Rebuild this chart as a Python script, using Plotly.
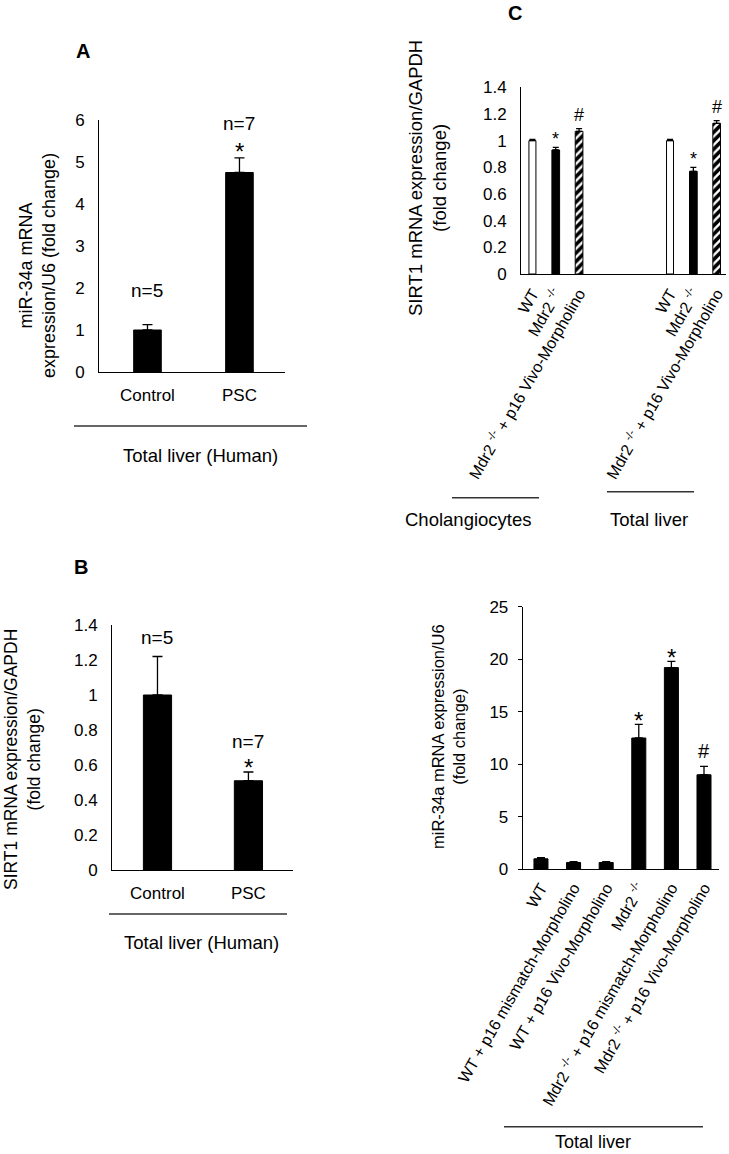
import plotly.graph_objects as go

W, H = 729, 1154
FONT = "Liberation Sans, Arial, sans-serif"
FS = 17

# ---------------- data ----------------
# Panel A: miR-34a in human liver
a_cats = ["Control", "PSC"]
a_vals = [1.0, 4.75]
a_err = [0.13, 0.35]
a_n = ["n=5", "n=7"]
a_sig = ["", "*"]

# Panel B: SIRT1 in human liver
b_cats = ["Control", "PSC"]
b_vals = [1.0, 0.51]
b_err = [0.22, 0.05]
b_n = ["n=5", "n=7"]
b_sig = ["", "*"]

# Panel C: SIRT1 in mouse (cholangiocytes / total liver)
c_groups = ["Cholangiocytes", "Total liver"]
c_labels = ["WT", "Mdr2 <sup>-/-</sup>", "Mdr2 <sup>-/-</sup> + p16 Vivo-Morpholino"]
c_wt = [1.0, 1.0]
c_wt_err = [0.01, 0.01]
c_mdr2 = [0.93, 0.77]
c_mdr2_err = [0.02, 0.03]
c_morph = [1.07, 1.13]
c_morph_err = [0.02, 0.02]

# Panel D: miR-34a in mouse total liver
d_cats = ["WT", "WT + p16 mismatch-Morpholino", "WT + p16 Vivo-Morpholino",
          "Mdr2 <sup>-/-</sup>", "Mdr2 <sup>-/-</sup> + p16 mismatch-Morpholino",
          "Mdr2 <sup>-/-</sup> + p16 Vivo-Morpholino"]
d_vals = [1.0, 0.65, 0.65, 12.5, 19.2, 9.0]
d_err = [0.1, 0.08, 0.08, 1.3, 0.6, 0.8]
d_sig = ["", "", "", "*", "*", "#"]


def px(x):
    return x / W


def py(y):
    return 1 - y / H


def errbar(err, w=5):
    return dict(type="data", symmetric=False, array=err, arrayminus=[0] * len(err),
                color="black", thickness=1.3, width=w)


fig = go.Figure()

# A
fig.add_trace(go.Bar(x=a_cats, y=a_vals, width=0.30, marker=dict(color="black", line=dict(color="black", width=1)),
                     error_y=errbar(a_err), xaxis="x", yaxis="y"))
# B
fig.add_trace(go.Bar(x=b_cats, y=b_vals, width=0.31, marker=dict(color="black", line=dict(color="black", width=1)),
                     error_y=errbar(b_err), xaxis="x2", yaxis="y2"))

# C positions: three bars per group, groups separated by a gap
GAP = 5.9
c_pos = [[g * GAP + i for g in range(len(c_groups))] for i in range(3)]
c_tickvals = [g * GAP + i for g in range(len(c_groups)) for i in range(3)]
c_ticktext = [c_labels[i] for g in range(len(c_groups)) for i in range(3)]
fig.add_trace(go.Bar(x=c_pos[0], y=c_wt, width=0.3,
                     marker=dict(color="white", line=dict(color="black", width=1)),
                     error_y=errbar(c_wt_err, 3), xaxis="x3", yaxis="y3"))
fig.add_trace(go.Bar(x=c_pos[1], y=c_mdr2, width=0.33,
                     marker=dict(color="black", line=dict(color="black", width=1)),
                     error_y=errbar(c_mdr2_err, 3), xaxis="x3", yaxis="y3"))
fig.add_trace(go.Bar(x=c_pos[2], y=c_morph, width=0.33,
                     marker=dict(color="white", line=dict(color="black", width=1),
                                 pattern=dict(shape="/", fgcolor="black", bgcolor="white", size=6, solidity=0.6)),
                     error_y=errbar(c_morph_err, 3), xaxis="x3", yaxis="y3"))
# D
fig.add_trace(go.Bar(x=d_cats, y=d_vals, width=0.43, marker=dict(color="black", line=dict(color="black", width=1)),
                     error_y=errbar(d_err, 4), xaxis="x4", yaxis="y4"))

axis_common = dict(showline=True, linecolor="black", linewidth=1, showgrid=False, zeroline=False,
                   automargin=False, fixedrange=True)
tf = dict(family=FONT, size=FS, color="black")
tf_rot = dict(family=FONT, size=16, color="black")

fig.update_layout(
    template="none",
    width=W, height=H, margin=dict(l=0, r=0, t=0, b=0, pad=0, autoexpand=False),
    paper_bgcolor="white", plot_bgcolor="white", showlegend=False, bargap=0,
    font=dict(family=FONT, size=FS, color="black"),
    xaxis=dict(domain=[px(99), px(285)], range=[-0.527, 1.495], anchor="y", ticks="",
               ticklabelstandoff=8, tickfont=tf, **axis_common),
    yaxis=dict(domain=[py(372), py(120)], range=[0, 6], dtick=1, anchor="x", ticks="",
               ticklabelstandoff=10, tickfont=tf, **axis_common),
    xaxis2=dict(domain=[px(112), px(293)], range=[-0.5, 1.49], anchor="y2", ticks="",
                ticklabelstandoff=8, tickfont=tf, **axis_common),
    yaxis2=dict(domain=[py(870), py(625)], range=[0, 1.4], dtick=0.2, anchor="x2", ticks="",
                ticklabelstandoff=10, tickfont=tf, **axis_common),
    xaxis3=dict(domain=[px(521), px(726)], range=[-0.49, 8.3], anchor="y3", ticks="",
                tickvals=c_tickvals, ticktext=c_ticktext, tickangle=-60,
                ticklabelstandoff=3, tickfont=tf_rot, **axis_common),
    yaxis3=dict(domain=[py(274), py(87.3)], range=[0, 1.4], dtick=0.2, anchor="x3", ticks="",
                ticklabelstandoff=10, tickfont=tf, **axis_common),
    xaxis4=dict(domain=[px(522.7), px(719)], range=[-0.56, 5.46], anchor="y4", ticks="",
                tickangle=-60, ticklabelstandoff=2, tickfont=tf_rot, **axis_common),
    yaxis4=dict(domain=[py(869.3), py(606.7)], range=[0, 25], dtick=5, anchor="x4",
                ticks="outside", ticklen=4, tickcolor="black", ticklabelstandoff=6, tickfont=tf, **axis_common),
)

ann = []


def txt(x, y, text, size=FS, bold=False, xref="paper", yref="paper", angle=0, yshift=0):
    ann.append(dict(x=x, y=y, xref=xref, yref=yref, text=("<b>%s</b>" % text) if bold else text,
                    showarrow=False, textangle=angle, xanchor="center", yanchor="middle", yshift=yshift,
                    font=dict(family=FONT, size=size, color="black")))


# panel letters
txt(px(83), py(51), "A", 20, True)
txt(px(81), py(567), "B", 20, True)
txt(px(515), py(13), "C", 20, True)

# y-axis titles
txt(px(37), py(266), "miR-34a mRNA<br>expression/U6 (fold change)", 18, angle=-90)
txt(px(22), py(760), "SIRT1 mRNA expression/GAPDH<br>(fold change)", 17.5, angle=-90)
txt(px(427), py(178), "SIRT1 mRNA expression/GAPDH<br>(fold change)", 18.5, angle=-90)
txt(px(448), py(737), "miR-34a mRNA expression/U6<br>(fold change)", 16.5, angle=-90)

# n labels and significance marks
for i, c in enumerate(a_cats):
    top = a_vals[i] + a_err[i]
    txt(c, top, a_n[i], 19, xref="x", yref="y", yshift=34)
    if a_sig[i]:
        txt(c, top, a_sig[i], 24, xref="x", yref="y", yshift=6)
for i, c in enumerate(b_cats):
    top = b_vals[i] + b_err[i]
    txt(c, top, b_n[i], 19, xref="x2", yref="y2", yshift=19 if i == 0 else 31)
    if b_sig[i]:
        txt(c, top, b_sig[i], 24, xref="x2", yref="y2", yshift=5)
for g in range(len(c_groups)):
    txt(c_pos[1][g], c_mdr2[g] + c_mdr2_err[g], "*", 18, xref="x3", yref="y3", yshift=8)
    txt(c_pos[2][g], c_morph[g] + c_morph_err[g], "#", 18, xref="x3", yref="y3", yshift=14)
for i, c in enumerate(d_cats):
    if d_sig[i]:
        top = d_vals[i] + d_err[i]
        txt(c, top, d_sig[i], 20 if d_sig[i] == "#" else 24, xref="x4", yref="y4",
            yshift=15 if d_sig[i] == "#" else 4)

# group labels under axes
GL = 18.5
txt(px(200), py(455), "Total liver (Human)", GL)
txt(px(201), py(942), "Total liver (Human)", GL)
txt(px(468.5), py(519), c_groups[0], GL)
txt(px(648.5), py(519), c_groups[1], GL)
txt(px(593), py(1142), "Total liver", 18)

fig.update_layout(annotations=ann)

lines = [(74, 307, 426), (109, 287, 914), (452, 539, 497.7), (607, 694, 491.7), (504, 703, 1126.7)]
fig.update_layout(shapes=[dict(type="line", xref="paper", yref="paper", x0=px(a), x1=px(b), y0=py(y), y1=py(y),
                               line=dict(color="#333333", width=1.5)) for a, b, y in lines])

fig.write_html("out.html", config={"displayModeBar": False, "staticPlot": True},
               post_script="document.body.style.margin='0px';document.body.style.overflow='hidden';")
